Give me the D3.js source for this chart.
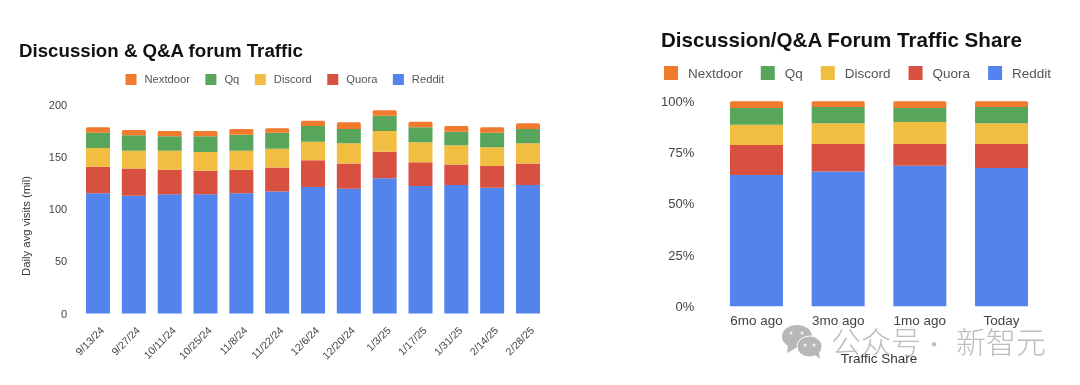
<!DOCTYPE html>
<html>
<head>
<meta charset="utf-8">
<script src="https://cdn.jsdelivr.net/npm/d3@7"></script>
<style>
html, body { margin: 0; background: #fff; }
svg { display: block; font-family: "Liberation Sans", Arial, sans-serif; filter: blur(0.35px); }
.axis path { display: none; }
.axis line { display: none; }
.axis text { fill: #444; font-family: "Liberation Sans", Arial, sans-serif; }
</style>
</head>
<body>
<script>
const seriesNames = ['Reddit', 'Quora', 'Discord', 'Qq', 'Nextdoor'];
const legendOrder = ['Nextdoor', 'Qq', 'Discord', 'Quora', 'Reddit'];
const colors = ['#5383ec', '#d85040', '#f1be42', '#58a55c', '#f07b2e'];

const dates = ['9/13/24', '9/27/24', '10/11/24', '10/25/24', '11/8/24', '11/22/24', '12/6/24',
    '12/20/24', '1/3/25', '1/17/25', '1/31/25', '2/14/25', '2/28/25'];
const reddit = [115.3, 113, 114.3, 114.3, 115.3, 117, 121.3, 119.7, 129.7, 122.3, 123.3, 120.7, 123.3];
const quora = [25.5, 26, 23.7, 22.7, 22.7, 23, 25.7, 24.3, 25.5, 22.7, 19.7, 20.8, 20.7];
const discord = [18, 17, 18, 18, 18, 18, 17.8, 19.2, 19.8, 19.2, 18.3, 18, 19.2];
const qq = [14.6, 15, 14, 15, 15.5, 15.4, 15.1, 13.8, 14.7, 14.5, 13.1, 13.9, 13.8];
const nextdoor = [5.3, 5, 5, 5, 5.5, 4.2, 5.1, 6.4, 5.3, 5.3, 5.5, 5.3, 5.4];

const periods = ['6mo ago', '3mo ago', '1mo ago', 'Today'];
const shareReddit = [64, 65.7, 68.6, 67.5];
const shareQuora = [14.7, 13.5, 10.6, 11.7];
const shareDiscord = [9.9, 10.1, 10.7, 10.1];
const shareQq = [8.1, 7.9, 6.8, 7.9];
const shareNextdoor = [3.3, 2.8, 3.3, 2.8];

const width = 1080;
const height = 385;

const svg = d3.select('body').append('svg')
    .attr('width', width)
    .attr('height', height);

function rows(cats, cols) {
    return cats.map((c, i) => {
        const row = { cat: c };
        seriesNames.forEach((s, j) => { row[s] = cols[j][i]; });
        return row;
    });
}

function topRounded(x, y, w, h, r) {
    return `M${x},${y + h}V${y + r}Q${x},${y} ${x + r},${y}H${x + w - r}Q${x + w},${y} ${x + w},${y + r}V${y + h}Z`;
}

function stackedBars(opt) {
    const data = rows(opt.cats, opt.cols);
    const stacked = d3.stack().keys(seriesNames)(data);

    const x = d3.scaleBand()
        .domain(opt.cats)
        .range(opt.xRange)
        .padding(opt.padding);

    const y = d3.scaleLinear()
        .domain(opt.yDomain)
        .range(opt.yRange);

    const layers = svg.append('g').selectAll('g')
        .data(stacked)
        .join('g')
        .attr('fill', (d, i) => colors[i]);

    layers.selectAll('path')
        .data(d => d.map(v => ({ v, last: d.key === 'Nextdoor' })))
        .join('path')
        .attr('d', d => {
            const top = y(d.v[1]);
            const h = y(d.v[0]) - top;
            const r = d.last ? 1.5 : 0;
            return topRounded(x(d.v.data.cat), top, x.bandwidth(), h, r);
        });

    const yAxis = d3.axisLeft(y)
        .tickValues(opt.yTicks)
        .tickFormat(opt.yFormat)
        .tickSize(0)
        .tickPadding(7);
    svg.append('g').attr('class', 'y axis')
        .attr('transform', `translate(${opt.xRange[0]}, 0)`)
        .call(yAxis)
        .selectAll('text')
        .style('font-size', opt.yFontSize + 'px');

    const xAxis = d3.axisBottom(x).tickSize(0).tickPadding(opt.xPad);
    const xg = svg.append('g').attr('class', 'x axis')
        .attr('transform', `translate(0, ${opt.yRange[0]})`)
        .call(xAxis);
    xg.selectAll('text').style('font-size', opt.xFontSize + 'px');
    if (opt.rotate) {
        xg.selectAll('text')
            .attr('text-anchor', 'end')
            .attr('dy', '0.6em')
            .attr('dx', -7.6)
            .attr('transform', 'rotate(-45)');
    }
}

function legend(opt) {
    let cx = opt.x;
    legendOrder.forEach(name => {
        svg.append('rect')
            .attr('x', cx)
            .attr('y', opt.y)
            .attr('width', opt.size)
            .attr('height', opt.size)
            .attr('fill', colors[seriesNames.indexOf(name)]);
        const t = svg.append('text')
            .attr('x', cx + opt.size + opt.gap)
            .attr('y', opt.y + opt.size / 2)
            .attr('dy', '0.35em')
            .attr('fill', '#555')
            .style('font-size', opt.fontSize + 'px')
            .text(name);
        cx += opt.size + opt.gap + t.node().getComputedTextLength() + opt.spacing;
    });
}

// left chart
svg.append('text')
    .attr('x', 19).attr('y', 57)
    .attr('font-weight', 'bold')
    .attr('fill', '#111')
    .style('font-size', '18.7px')
    .text('Discussion & Q&A forum Traffic');

legend({ x: 125.5, y: 74, size: 11, gap: 8, spacing: 15.5, fontSize: 11.2 });

stackedBars({
    cats: dates,
    cols: [reddit, quora, discord, qq, nextdoor],
    xRange: [74.2, 551.8],
    padding: 0.33,
    yDomain: [0, 200],
    yRange: [313.5, 105],
    yTicks: [0, 50, 100, 150, 200],
    yFormat: d3.format('d'),
    xPad: 11,
    rotate: true,
    xFontSize: 10.5,
    yFontSize: 11
});

svg.append('text')
    .attr('transform', 'translate(30, 226) rotate(-90)')
    .attr('text-anchor', 'middle')
    .attr('fill', '#333')
    .style('font-size', '11.3px')
    .text('Daily avg visits (mil)');

// right chart
svg.append('text')
    .attr('x', 661).attr('y', 47)
    .attr('font-weight', 'bold')
    .attr('fill', '#111')
    .style('font-size', '20.6px')
    .text('Discussion/Q&A Forum Traffic Share');

legend({ x: 664, y: 66, size: 14, gap: 10, spacing: 18, fontSize: 13.5 });

stackedBars({
    cats: periods,
    cols: [shareReddit, shareQuora, shareDiscord, shareQq, shareNextdoor],
    xRange: [701.3, 1056.7],
    padding: 0.351,
    yDomain: [0, 100],
    yRange: [306.3, 101.3],
    yTicks: [0, 25, 50, 75, 100],
    yFormat: d => d + '%',
    xPad: 9,
    rotate: false,
    xFontSize: 13.5,
    yFontSize: 13
});

svg.append('text')
    .attr('x', 879).attr('y', 363)
    .attr('text-anchor', 'middle')
    .attr('fill', '#333')
    .style('font-size', '13.5px')
    .text('Traffic Share');

// watermark
const wm = svg.append('g').attr('fill', '#b8b8b8');
wm.append('ellipse').attr('cx', 797).attr('cy', 336.5).attr('rx', 15).attr('ry', 11.5);
wm.append('path').attr('d', 'M788,345 L787,353 L796,348 Z');
wm.append('ellipse').attr('cx', 809.5).attr('cy', 346.5).attr('rx', 12.5).attr('ry', 10.5).attr('stroke', '#fff').attr('stroke-width', 1);
wm.append('path').attr('d', 'M814,354 L820,359 L819,352 Z');
[[791, 333], [802, 333], [805, 345], [814, 345]].forEach(p => {
    svg.append('circle').attr('cx', p[0]).attr('cy', p[1]).attr('r', 1.6).attr('fill', '#eee');
});
const wmText = svg.append('text')
    .attr('y', 353)
    .attr('fill', '#bdbdbd')
    .attr('font-weight', 300)
    .style('font-family', '"Noto Sans CJK SC"')
    .style('font-size', '30px');
wmText.append('tspan').attr('x', 831).text('公众号');
wmText.append('tspan').attr('x', 922).attr('font-size', '24px').style('font-size', '24px').text('·');
wmText.append('tspan').attr('x', 956).text('新智元');
</script>
</body>
</html>
